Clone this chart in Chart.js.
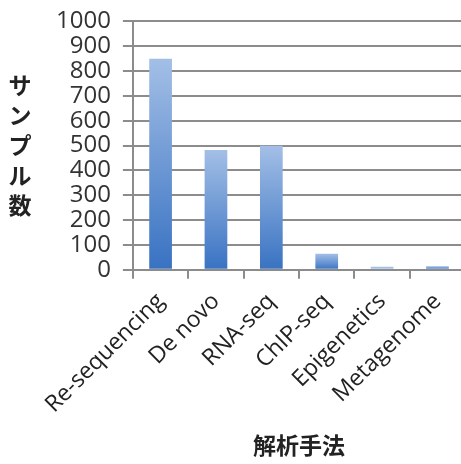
<!DOCTYPE html>
<html>
<head>
<meta charset="utf-8">
<script src="https://cdn.jsdelivr.net/npm/chart.js@4/dist/chart.umd.min.js"></script>
<style>
  html, body { margin: 0; padding: 0; background: #fff; overflow: hidden; }
  #wrap { position: relative; width: 466px; height: 469px; margin-top: -5px; }
</style>
</head>
<body>
<div id="wrap"><canvas id="methods"></canvas></div>
<script>
// data
var categories = ['Re-sequencing', 'De novo', 'RNA-seq', 'ChIP-seq', 'Epigenetics', 'Metagenome'];
var sampleCounts = [850, 482, 500, 65, 5, 15];
var yTicks = [0, 100, 200, 300, 400, 500, 600, 700, 800, 900, 1000];
var yTitle = 'サンプル数';
var xTitle = '解析手法';

var gridGray = '#8c8c8c';
var jpFont = '"Noto Sans CJK JP", "Noto Sans", sans-serif';

// stacked vertical y title, one character per line
var stackedTitle = {
    id: 'stackedTitle',
    afterDraw: function (chart) {
        var c = chart.ctx;
        c.save();
        c.fillStyle = '#222';
        c.font = 'bold 23px ' + jpFont;
        c.textAlign = 'center';
        c.textBaseline = 'middle';
        var chars = Array.from(yTitle);
        for (var i = 0; i < chars.length; i++) {
            c.fillText(chars[i], 20, 5 + 85 + i * 30);
        }
        c.restore();
    }
};

function barFill(context) {
    var chart = context.chart;
    if (!chart.chartArea) return '#6a95d2';
    var y = chart.scales.y;
    var v = context.raw;
    var top = y.getPixelForValue(v);
    var base = y.getPixelForValue(0);
    if (base - top < 1) return '#6a95d2';
    var g = chart.ctx.createLinearGradient(0, top, 0, base);
    g.addColorStop(0, '#a3bfe6');
    g.addColorStop(1, '#3872c2');
    return g;
}

var ctx = document.getElementById('methods');
var myChart = new Chart(ctx, {
    type: 'bar',
    data: {
        labels: categories,
        datasets: [{
            data: sampleCounts,
            backgroundColor: barFill,
            borderWidth: 0,
            categoryPercentage: 0.82,
            barPercentage: 0.5,
            minBarLength: 3
        }]
    },
    options: {
        responsive: true,
        maintainAspectRatio: false,
        animation: false,
        layout: { padding: { left: 44, top: 3, right: 0, bottom: 5 } },
        plugins: {
            legend: { display: false },
            tooltip: { enabled: false }
        },
        scales: {
            x: {
                grid: {
                    offset: true,
                    drawOnChartArea: false,
                    color: gridGray,
                    lineWidth: 2,
                    tickLength: 9
                },
                border: { color: gridGray, width: 2 },
                ticks: {
                    color: '#222',
                    font: { family: '"Open Sans", sans-serif', size: 23 },
                    maxRotation: 45,
                    minRotation: 45,
                    autoSkip: false,
                    padding: 9
                },
                title: {
                    display: true,
                    text: xTitle,
                    color: '#222',
                    font: { family: jpFont, size: 23, weight: 'bold' },
                    padding: { top: 4, bottom: 0 }
                }
            },
            y: {
                min: yTicks[0],
                max: yTicks[yTicks.length - 1],
                grid: {
                    color: gridGray,
                    lineWidth: 2,
                    tickLength: 10
                },
                border: { color: gridGray, width: 2 },
                ticks: {
                    stepSize: yTicks[1] - yTicks[0],
                    autoSkip: false,
                    color: '#333',
                    font: { family: '"Open Sans", sans-serif', size: 24 },
                    padding: 12,
                    callback: function (v) { return String(v); }
                }
            }
        }
    },
    plugins: [stackedTitle]
});
</script>
</body>
</html>
